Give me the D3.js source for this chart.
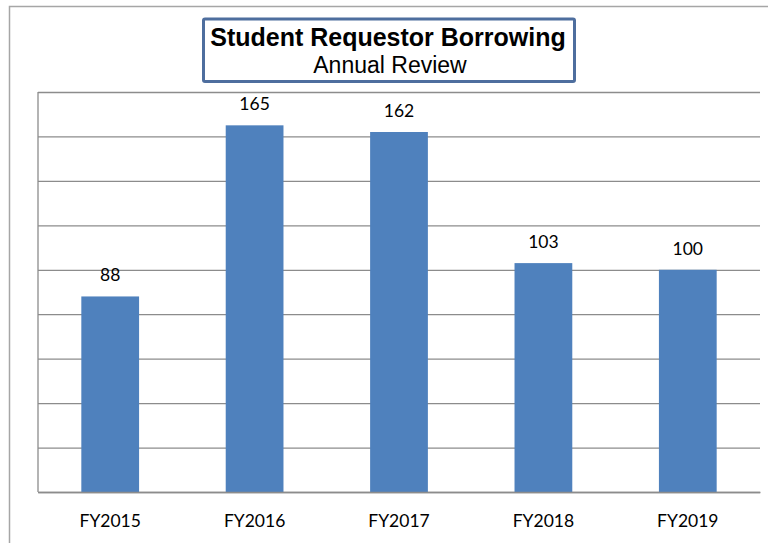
<!DOCTYPE html>
<html>
<head>
<meta charset="utf-8">
<script src="https://cdn.jsdelivr.net/npm/d3@7"></script>
<style>
  html, body { margin: 0; padding: 0; background: #fff; }
  svg { display: block; }
</style>
</head>
<body>
<svg id="chart" width="768" height="543"></svg>
<script>
const categories = ["FY2015", "FY2016", "FY2017", "FY2018", "FY2019"];
const values = [88, 165, 162, 103, 100];
const yTicks = [0, 20, 40, 60, 80, 100, 120, 140, 160, 180];
const titleText = "Student Requestor Borrowing";
const subtitleText = "Annual Review";

const svg = d3.select("#chart");
const plot = { left: 38, right: 760, top: 92, bottom: 492 };

// outer chart frame (extends past view on right/bottom)
svg.append("rect")
  .attr("x", 9.5).attr("y", 6.5)
  .attr("width", 800).attr("height", 600)
  .attr("fill", "#fff").attr("stroke", "#a6a6a6").attr("stroke-width", 1.5);

const x = d3.scaleBand()
  .domain(categories)
  .range([plot.left, plot.right])
  .paddingInner(0.6)
  .paddingOuter(0.3);

const y = d3.scaleLinear()
  .domain([0, 180])
  .range([plot.bottom, plot.top]);

// gridlines
const grid = svg.append("g")
  .attr("transform", `translate(${plot.left},0)`)
  .call(d3.axisLeft(y).tickValues(yTicks).tickSize(-(plot.right - plot.left)).tickFormat(""));
grid.select(".domain").remove();
grid.selectAll(".tick line").attr("stroke", "#8c8c8c").attr("stroke-width", 1.3);

// value axis line (left)
svg.append("line")
  .attr("x1", plot.left).attr("x2", plot.left)
  .attr("y1", plot.top).attr("y2", plot.bottom)
  .attr("stroke", "#8c8c8c").attr("stroke-width", 1.3);

// bars
svg.append("g").selectAll("rect")
  .data(values)
  .join("rect")
  .attr("x", (d, i) => x(categories[i]))
  .attr("y", d => y(d))
  .attr("width", x.bandwidth())
  .attr("height", d => y(0) - y(d))
  .attr("fill", "#4f81bd");

// category axis
const xAxis = svg.append("g")
  .attr("transform", `translate(0,${plot.bottom})`)
  .call(d3.axisBottom(x).tickSize(0).tickPadding(0));
xAxis.select(".domain").attr("stroke", "#8c8c8c").attr("stroke-width", 1.3);
xAxis.selectAll("text")
  .attr("dy", null)
  .attr("y", 35)
  .attr("fill", "#000")
  .style("font-family", "Lato, 'Open Sans', sans-serif")
  .style("font-size", "17.5px");

// data labels
svg.append("g").selectAll("text")
  .data(values)
  .join("text")
  .attr("x", (d, i) => x(categories[i]) + x.bandwidth() / 2)
  .attr("y", d => y(d) - 15)
  .attr("text-anchor", "middle")
  .attr("fill", "#000")
  .style("font-family", "Lato, 'Open Sans', sans-serif")
  .style("font-size", "17.5px")
  .text(d => d);

// title box
svg.append("rect")
  .attr("x", 203.5).attr("y", 19)
  .attr("width", 371).attr("height", 62.5)
  .attr("fill", "#fff").attr("stroke", "#4e6e9e").attr("stroke-width", 3).attr("rx", 1.5);

svg.append("text")
  .attr("x", 388).attr("y", 46)
  .attr("text-anchor", "middle")
  .style("font-family", "'Liberation Sans', Arial, sans-serif")
  .style("font-weight", "bold")
  .style("font-size", "25px")
  .attr("fill", "#000")
  .text(titleText);

svg.append("text")
  .attr("x", 390).attr("y", 73)
  .attr("text-anchor", "middle")
  .style("font-family", "'Liberation Sans', Arial, sans-serif")
  .style("font-size", "23px")
  .attr("fill", "#000")
  .text(subtitleText);
</script>
</body>
</html>
